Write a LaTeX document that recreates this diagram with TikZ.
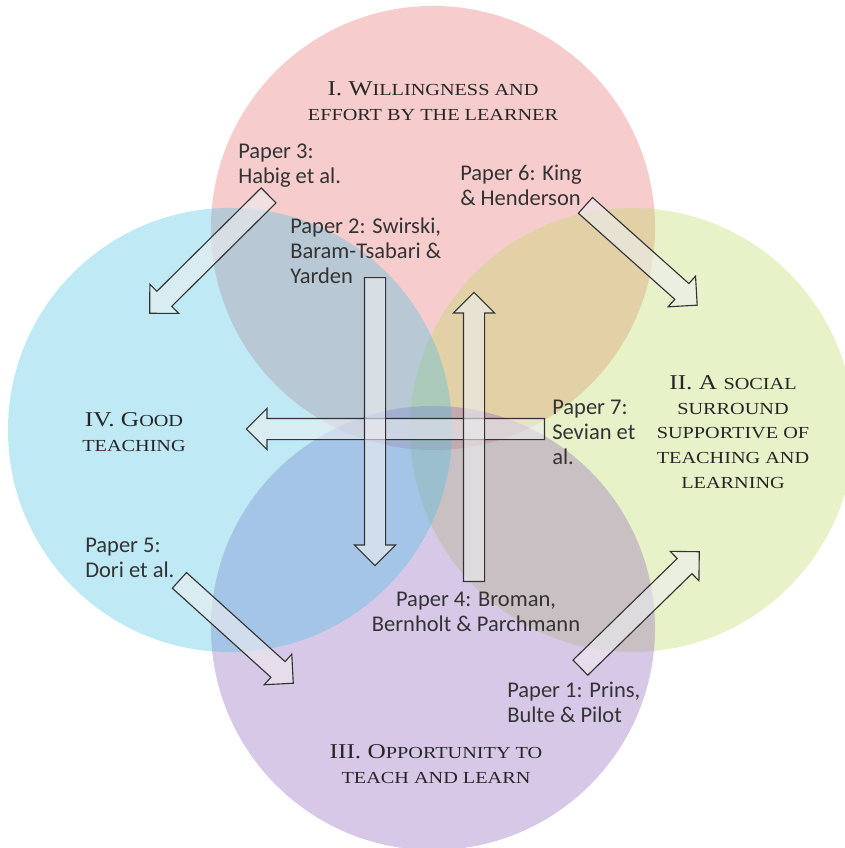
\documentclass[tikz,border=0pt]{standalone}
\usepackage{fontspec}
\usepackage{xcolor}
\usetikzlibrary{calc,shapes.arrows}

\newfontfamily\paperfont{Carlito}
\newfontfamily\titlefont[FakeStretch=1.2]{Liberation Serif}
\newcommand{\smc}[1]{{\fontsize{12}{17.5}\selectfont #1}}

\definecolor{willred}{RGB}{229,109,109}
\definecolor{socgreen}{RGB}{189,218,98}
\definecolor{opppurple}{RGB}{143,98,189}
\definecolor{goodblue}{RGB}{70,192,227}
\definecolor{arrowgray}{RGB}{236,238,240}

\tikzset{
  region/.style={fill=#1, fill opacity=0.35},
  title/.style={font=\titlefont\fontsize{15}{17.5}\selectfont, align=center,
    text=black!85, inner sep=0pt},
  paper/.style={font=\paperfont\fontsize{16}{17.8}\selectfont, align=left,
    text=black!80, inner sep=0pt, anchor=north west},
  blockarrow/.style={single arrow, draw=black!80, line width=0.8pt,
    fill=arrowgray, fill opacity=0.6, draw opacity=1, inner sep=0.25cm,
    single arrow head extend=0.25cm, single arrow tip angle=90, anchor=tail}
}

% block arrow from tail coordinate #1 to tip coordinate #2, named #3
\newcommand{\paperarrow}[3]{%
  \path let \p1=($(#2)-(#1)$), \n1={atan2(\y1,\x1)}, \n2={veclen(\x1,\y1)} in
    node[blockarrow, minimum height=\n2, rotate=\n1] (#3) at (#1) {};}

\begin{document}
\begin{tikzpicture}[x=0.025cm, y=-0.025cm]
\useasboundingbox (0,0) rectangle (845,848);

% ------------------------
% The four conditions
% ------------------------
\def\rad{5.55cm}
\coordinate (cWill) at (433,228);
\coordinate (cSoc)  at (632,430);
\coordinate (cOpp)  at (433,628);
\coordinate (cGood) at (230,430);

\fill[region=willred]   (cWill) circle[radius=\rad];
\fill[region=socgreen]  (cSoc)  circle[radius=\rad];
\fill[region=opppurple] (cOpp)  circle[radius=\rad];
\fill[region=goodblue]  (cGood) circle[radius=\rad];

\node[title] (tWill) at (433,101)
  {I. W\smc{ILLINGNESS AND}\\\smc{EFFORT BY THE LEARNER}};
\node[title] (tSoc) at (733,432)
  {II. A \smc{SOCIAL}\\\smc{SURROUND}\\\smc{SUPPORTIVE OF}\\\smc{TEACHING AND}\\\smc{LEARNING}};
\node[title] (tOpp) at (436,764)
  {III. O\smc{PPORTUNITY TO}\\\smc{TEACH AND LEARN}};
\node[title] (tGood) at (134,432)
  {IV. G\smc{OOD}\\\smc{TEACHING}};

% ------------------------
% Papers
% ------------------------
\node[paper] (p3) at (238,144) {Paper 3:\\Habig et al.};
\node[paper] (p6) at (460,165) {Paper 6: King\\\& Henderson};
\node[paper] (p2) at (290,218) {Paper 2: Swirski,\\Baram-Tsabari \&\\Yarden};
\node[paper] (p7) at (552,400) {Paper 7:\\Sevian et\\al.};
\node[paper] (p5) at (85,538) {Paper 5:\\Dori et al.};
\node[paper, anchor=north, align=center] (p4) at (476,592)
  {Paper 4: Broman,\\Bernholt \& Parchmann};
\node[paper] (p1) at (507,682) {Paper 1: Prins,\\Bulte \& Pilot};

% ------------------------
% Arrows (tail -> tip)
% ------------------------
\coordinate (p3tail) at (269,195); \coordinate (p3tip) at (150,313);
\coordinate (p6tail) at (585,205); \coordinate (p6tip) at (697,305);
\coordinate (p2tail) at (375,277); \coordinate (p2tip) at (375,565);
\coordinate (p4tail) at (474,582); \coordinate (p4tip) at (474,293);
\coordinate (p7tail) at (545,429); \coordinate (p7tip) at (247,429);
\coordinate (p5tail) at (179,580); \coordinate (p5tip) at (293,683);
\coordinate (p1tail) at (580,668); \coordinate (p1tip) at (699,552);

\paperarrow{p3tail}{p3tip}{a3}
\paperarrow{p6tail}{p6tip}{a6}
\paperarrow{p7tail}{p7tip}{a7}
\paperarrow{p2tail}{p2tip}{a2}
\paperarrow{p4tail}{p4tip}{a4}
\paperarrow{p5tail}{p5tip}{a5}
\paperarrow{p1tail}{p1tip}{a1}

\end{tikzpicture}
\end{document}
